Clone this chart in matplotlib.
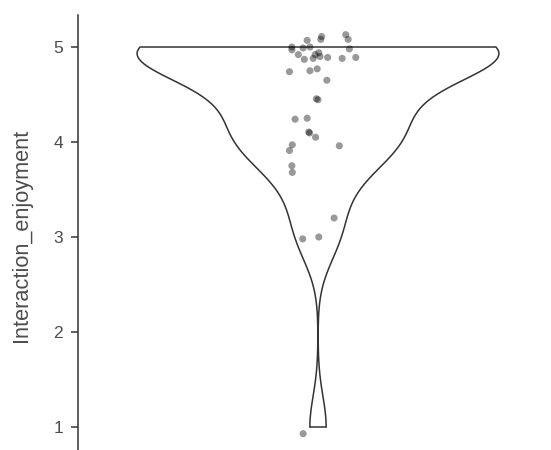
import numpy as np
import matplotlib
matplotlib.use("Agg")
import matplotlib.pyplot as plt

plt.rcParams['font.family'] = ['Liberation Sans', 'DejaVu Sans']

# underlying scores (used for the violin density)
scores = ([5.0] * 19 + [14 / 3] * 4 + [13 / 3] * 4 + [4.0] * 6 +
          [11 / 3] * 2 + [10 / 3] * 1 + [3.0] * 2 + [1.0] * 1)

# jittered point positions
point_x = [-0.027, 0.009, 0.007, 0.069, 0.075, -0.065, -0.065, -0.037, -0.020, 0.078,
           -0.049, -0.034, -0.012, -0.007, 0.002, 0.005, 0.024, 0.060, 0.094,
           -0.071, -0.020, -0.002, 0.022,
           -0.004, 0.000, -0.057, -0.027,
           -0.023, -0.021, -0.006, -0.064, 0.053, -0.071,
           -0.065, -0.064, 0.040, -0.038, 0.002, -0.037]
point_y = [5.07, 5.11, 5.08, 5.13, 5.08, 5.00, 4.97, 4.99, 5.00, 4.98,
           4.92, 4.87, 4.88, 4.92, 4.94, 4.90, 4.89, 4.88, 4.89,
           4.74, 4.75, 4.77, 4.65,
           4.455, 4.445, 4.24, 4.25,
           4.105, 4.095, 4.05, 3.97, 3.96, 3.91,
           3.75, 3.68, 3.20, 2.98, 3.00, 0.93]

y_ticks = [1, 2, 3, 4, 5]
y_label = "Interaction_enjoyment"

# --- density (R nrd0 bandwidth, trimmed to data range) ---
data = np.asarray(scores)
n = len(data)
q1, q3 = np.percentile(data, [25, 75])
bw = 0.9 * min(np.std(data, ddof=1), (q3 - q1) / 1.34) * n ** (-0.2)
grid = np.linspace(data.min(), data.max(), 512)
dens = np.exp(-0.5 * ((grid[:, None] - data[None, :]) / bw) ** 2).sum(axis=1)
dens = dens / dens.max() * 0.45

fig = plt.figure(figsize=(5.51, 4.50), dpi=100)
ax = fig.add_axes([78 / 551, 0.0, 473 / 551, 1 - 15 / 450])

xs = np.concatenate([-dens, dens[::-1], [-dens[0]]])
ys = np.concatenate([grid, grid[::-1], [grid[0]]])
ax.fill(xs, ys, facecolor='white', edgecolor='#333333', linewidth=1.1, zorder=2)

ax.scatter(point_x, point_y, s=26, color='black', alpha=0.4, edgecolors='none', zorder=3)

ax.set_xlim((78 - 318) / 402, (551 - 318) / 402)
ax.set_ylim(1 - 23 / 95, 5 + 32 / 95)
ax.set_yticks(y_ticks)
ax.set_yticklabels([str(t) for t in y_ticks])
ax.set_xticks([])

for s in ['top', 'right', 'bottom']:
    ax.spines[s].set_visible(False)
ax.spines['left'].set_color('#333333')
ax.spines['left'].set_linewidth(1.1)
ax.tick_params(axis='y', length=5.3, width=1.1, color='#333333', pad=5.4,
               labelsize=12.5, labelcolor='#4d4d4d')

ax.set_ylabel(y_label, fontsize=15.7, color='#4d4d4d')
ax.yaxis.set_label_coords(-0.097, 0.494)

fig.savefig("out.png", dpi=100)
